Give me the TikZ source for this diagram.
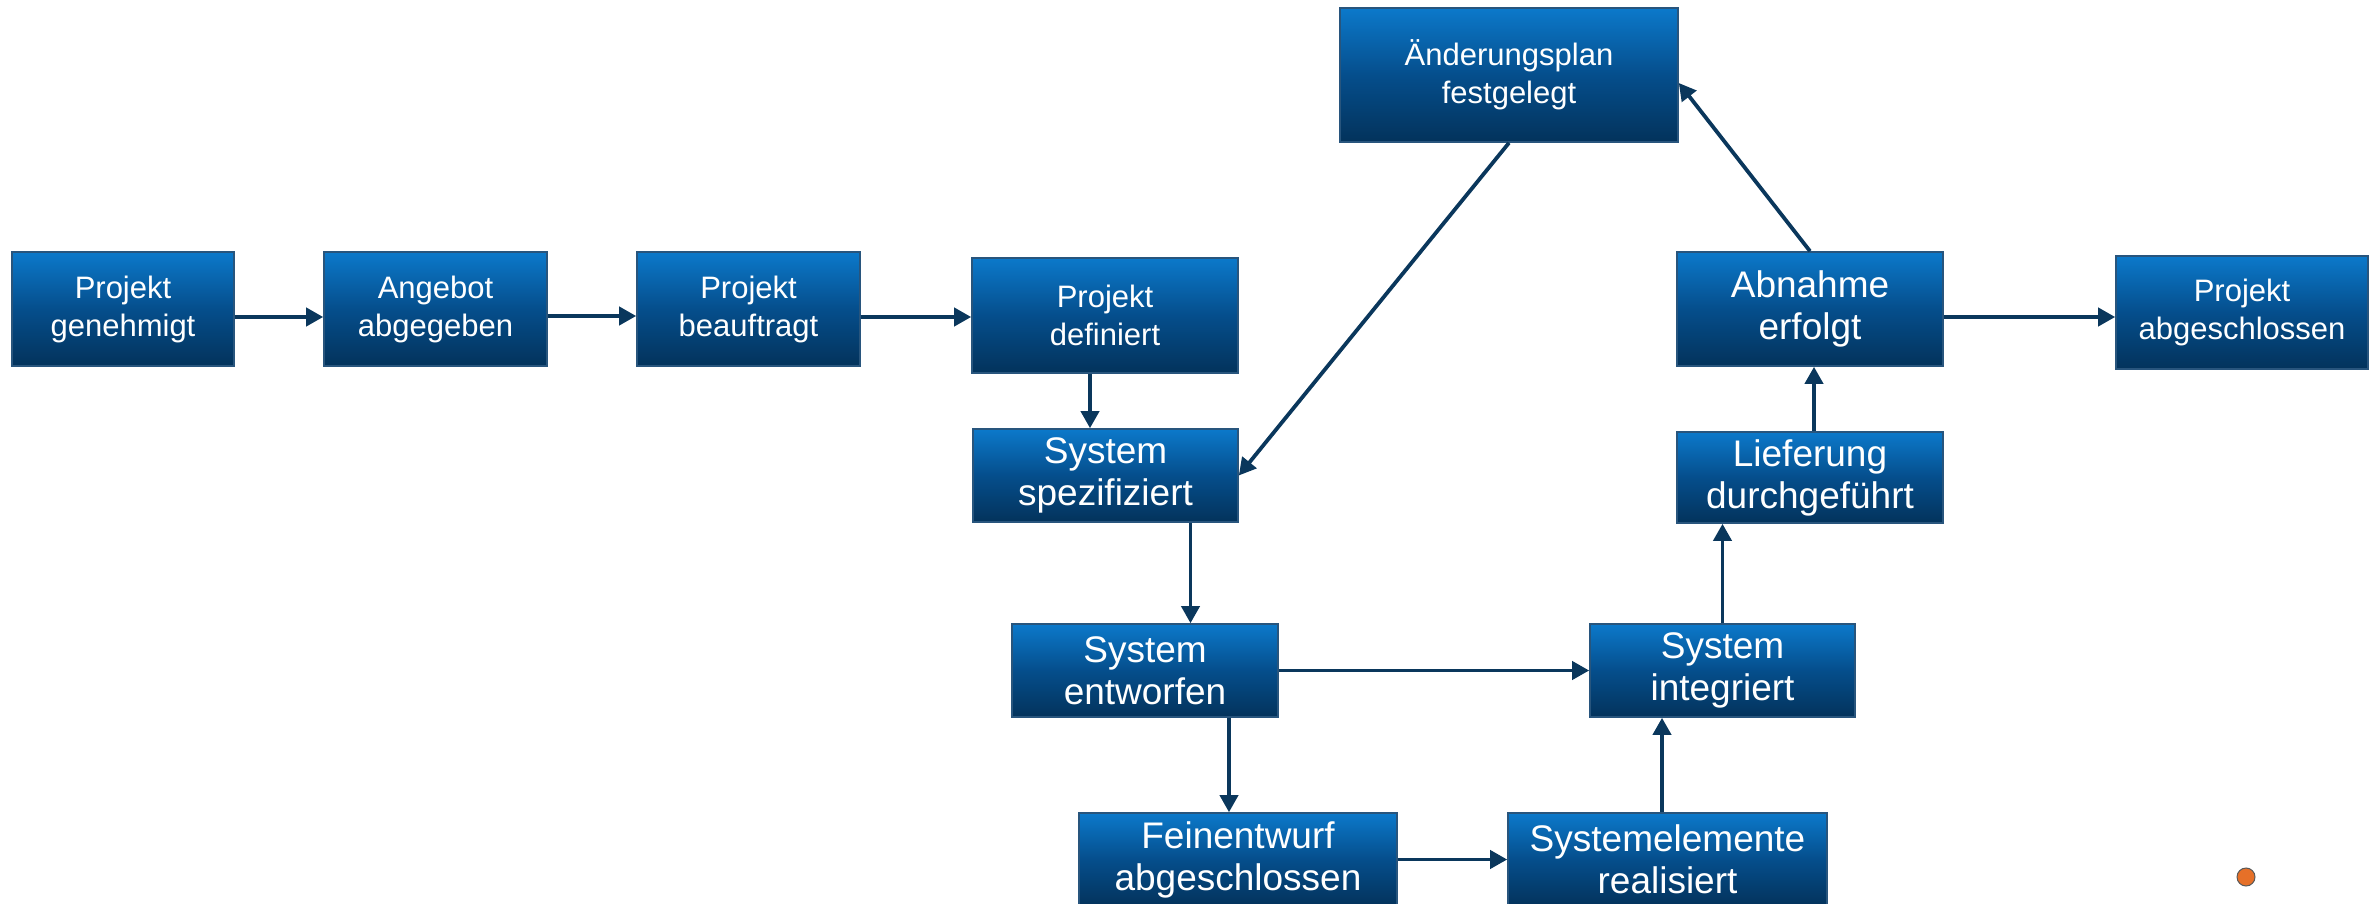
\documentclass[tikz,border=0pt]{standalone}
\usepackage{fontspec}
\setmainfont{Liberation Sans}
\usetikzlibrary{arrows.meta}
\definecolor{boxtop}{RGB}{16,150,245}
\definecolor{boxmid}{RGB}{5,78,140}
\definecolor{boxbot}{RGB}{2,32,58}
\definecolor{boxline}{RGB}{40,85,125}
\definecolor{arrcol}{RGB}{10,55,92}
\definecolor{dotcol}{RGB}{230,112,40}
\pgfdeclareverticalshading{boxshade}{100bp}{color(0bp)=(boxbot); color(8bp)=(boxbot); color(50bp)=(boxmid); color(92bp)=(boxtop); color(100bp)=(boxtop)}
\tikzset{
  pbox/.style={shade, shading=boxshade, draw=boxline, line width=0.8pt, text=white, align=center, inner sep=0pt},
  smallbox/.style={pbox, font=\fontsize{15.5pt}{19pt}\selectfont},
  bigbox/.style={pbox, font=\fontsize{18.5pt}{21pt}\selectfont},
  arr/.style={draw=arrcol, line width=1.9pt, -{Triangle[length=8.5pt,width=9pt]}}
}
\begin{document}
\begin{tikzpicture}[x=0.5pt,y=-0.5pt]
\useasboundingbox (0,0) rectangle (2377,904);
\begin{scope}
\clip (0,0) rectangle (2377,904);
\node[smallbox, minimum width=111pt, minimum height=57pt] (g1) at (123,309) {Projekt\\genehmigt};
\node[smallbox, minimum width=111.5pt, minimum height=57pt] (g2) at (435.5,309) {Angebot\\abgegeben};
\node[smallbox, minimum width=111.5pt, minimum height=57pt] (g3) at (748.5,309) {Projekt\\beauftragt};
\node[smallbox, minimum width=133pt, minimum height=57.5pt] (g4) at (1105,315.5) {Projekt\\definiert};
\node[bigbox, minimum width=132.5pt, minimum height=46.5pt] (spez) at (1105.5,475.5) {System\\spezifiziert};
\node[bigbox, minimum width=133pt, minimum height=46.5pt] (entw) at (1145,670.5) {System\\entworfen};
\node[bigbox, minimum width=159pt, minimum height=46.5pt] (fein) at (1238,859.5) {Feinentwurf\\abgeschlossen};
\node[bigbox, minimum width=159.5pt, minimum height=46.5pt] (selem) at (1667.5,859.5) {Systemelemente\\realisiert};
\node[bigbox, minimum width=132.5pt, minimum height=46.5pt] (integ) at (1722.5,670.5) {System\\integriert};
\node[bigbox, minimum width=133pt, minimum height=45.5pt] (lief) at (1810,477.5) {Lieferung\\durchgeführt};
\node[bigbox, minimum width=133pt, minimum height=57pt] (abn) at (1810,309) {Abnahme\\erfolgt};
\node[smallbox, minimum width=169pt, minimum height=67pt] (aend) at (1509,75) {Änderungsplan\\festgelegt};
\node[smallbox, minimum width=126pt, minimum height=56.5pt] (abg) at (2242,312.5) {Projekt\\abgeschlossen};

\draw[arr] ([yshift=-4pt]g1.east) -- ([yshift=-4pt]g2.west);
\draw[arr] ([yshift=-3.5pt]g2.east) -- ([yshift=-3.5pt]g3.west);
\draw[arr] ([yshift=-4pt]g3.east) -- ([yshift=-4pt]g3.east -| g4.west);
\draw[arr] ([xshift=-7.5pt]g4.south) -- ([xshift=-7.5pt]g4.south |- spez.north);
\draw[arr] ([xshift=42.5pt]spez.south) -- ([xshift=42.5pt]spez.south |- entw.north);
\draw[arr] (entw.east) -- (integ.west);
\draw[arr] ([xshift=42pt]entw.south) -- ([xshift=42pt]entw.south |- fein.north);
\draw[arr] (fein.east) -- (selem.west);
\draw[arr] ([xshift=-2.75pt]selem.north) -- ([xshift=-2.75pt]selem.north |- integ.south);
\draw[arr] (integ.north) -- (integ.north |- lief.south);
\draw[arr] ([xshift=2pt]lief.north) -- ([xshift=2pt]lief.north |- abn.south);
\draw[arr] ([yshift=-4pt]abn.east) -- ([yshift=-4pt]abn.east -| abg.west);
\draw[arr] (abn.north) -- ([yshift=-4pt]aend.east);
\draw[arr] (aend.south) -- (spez.east);

\node[circle, fill=dotcol, draw=gray!70!black, line width=0.5pt, minimum size=9pt, inner sep=0pt] (dot) at (2246,877) {};
\end{scope}
\end{tikzpicture}
\end{document}
